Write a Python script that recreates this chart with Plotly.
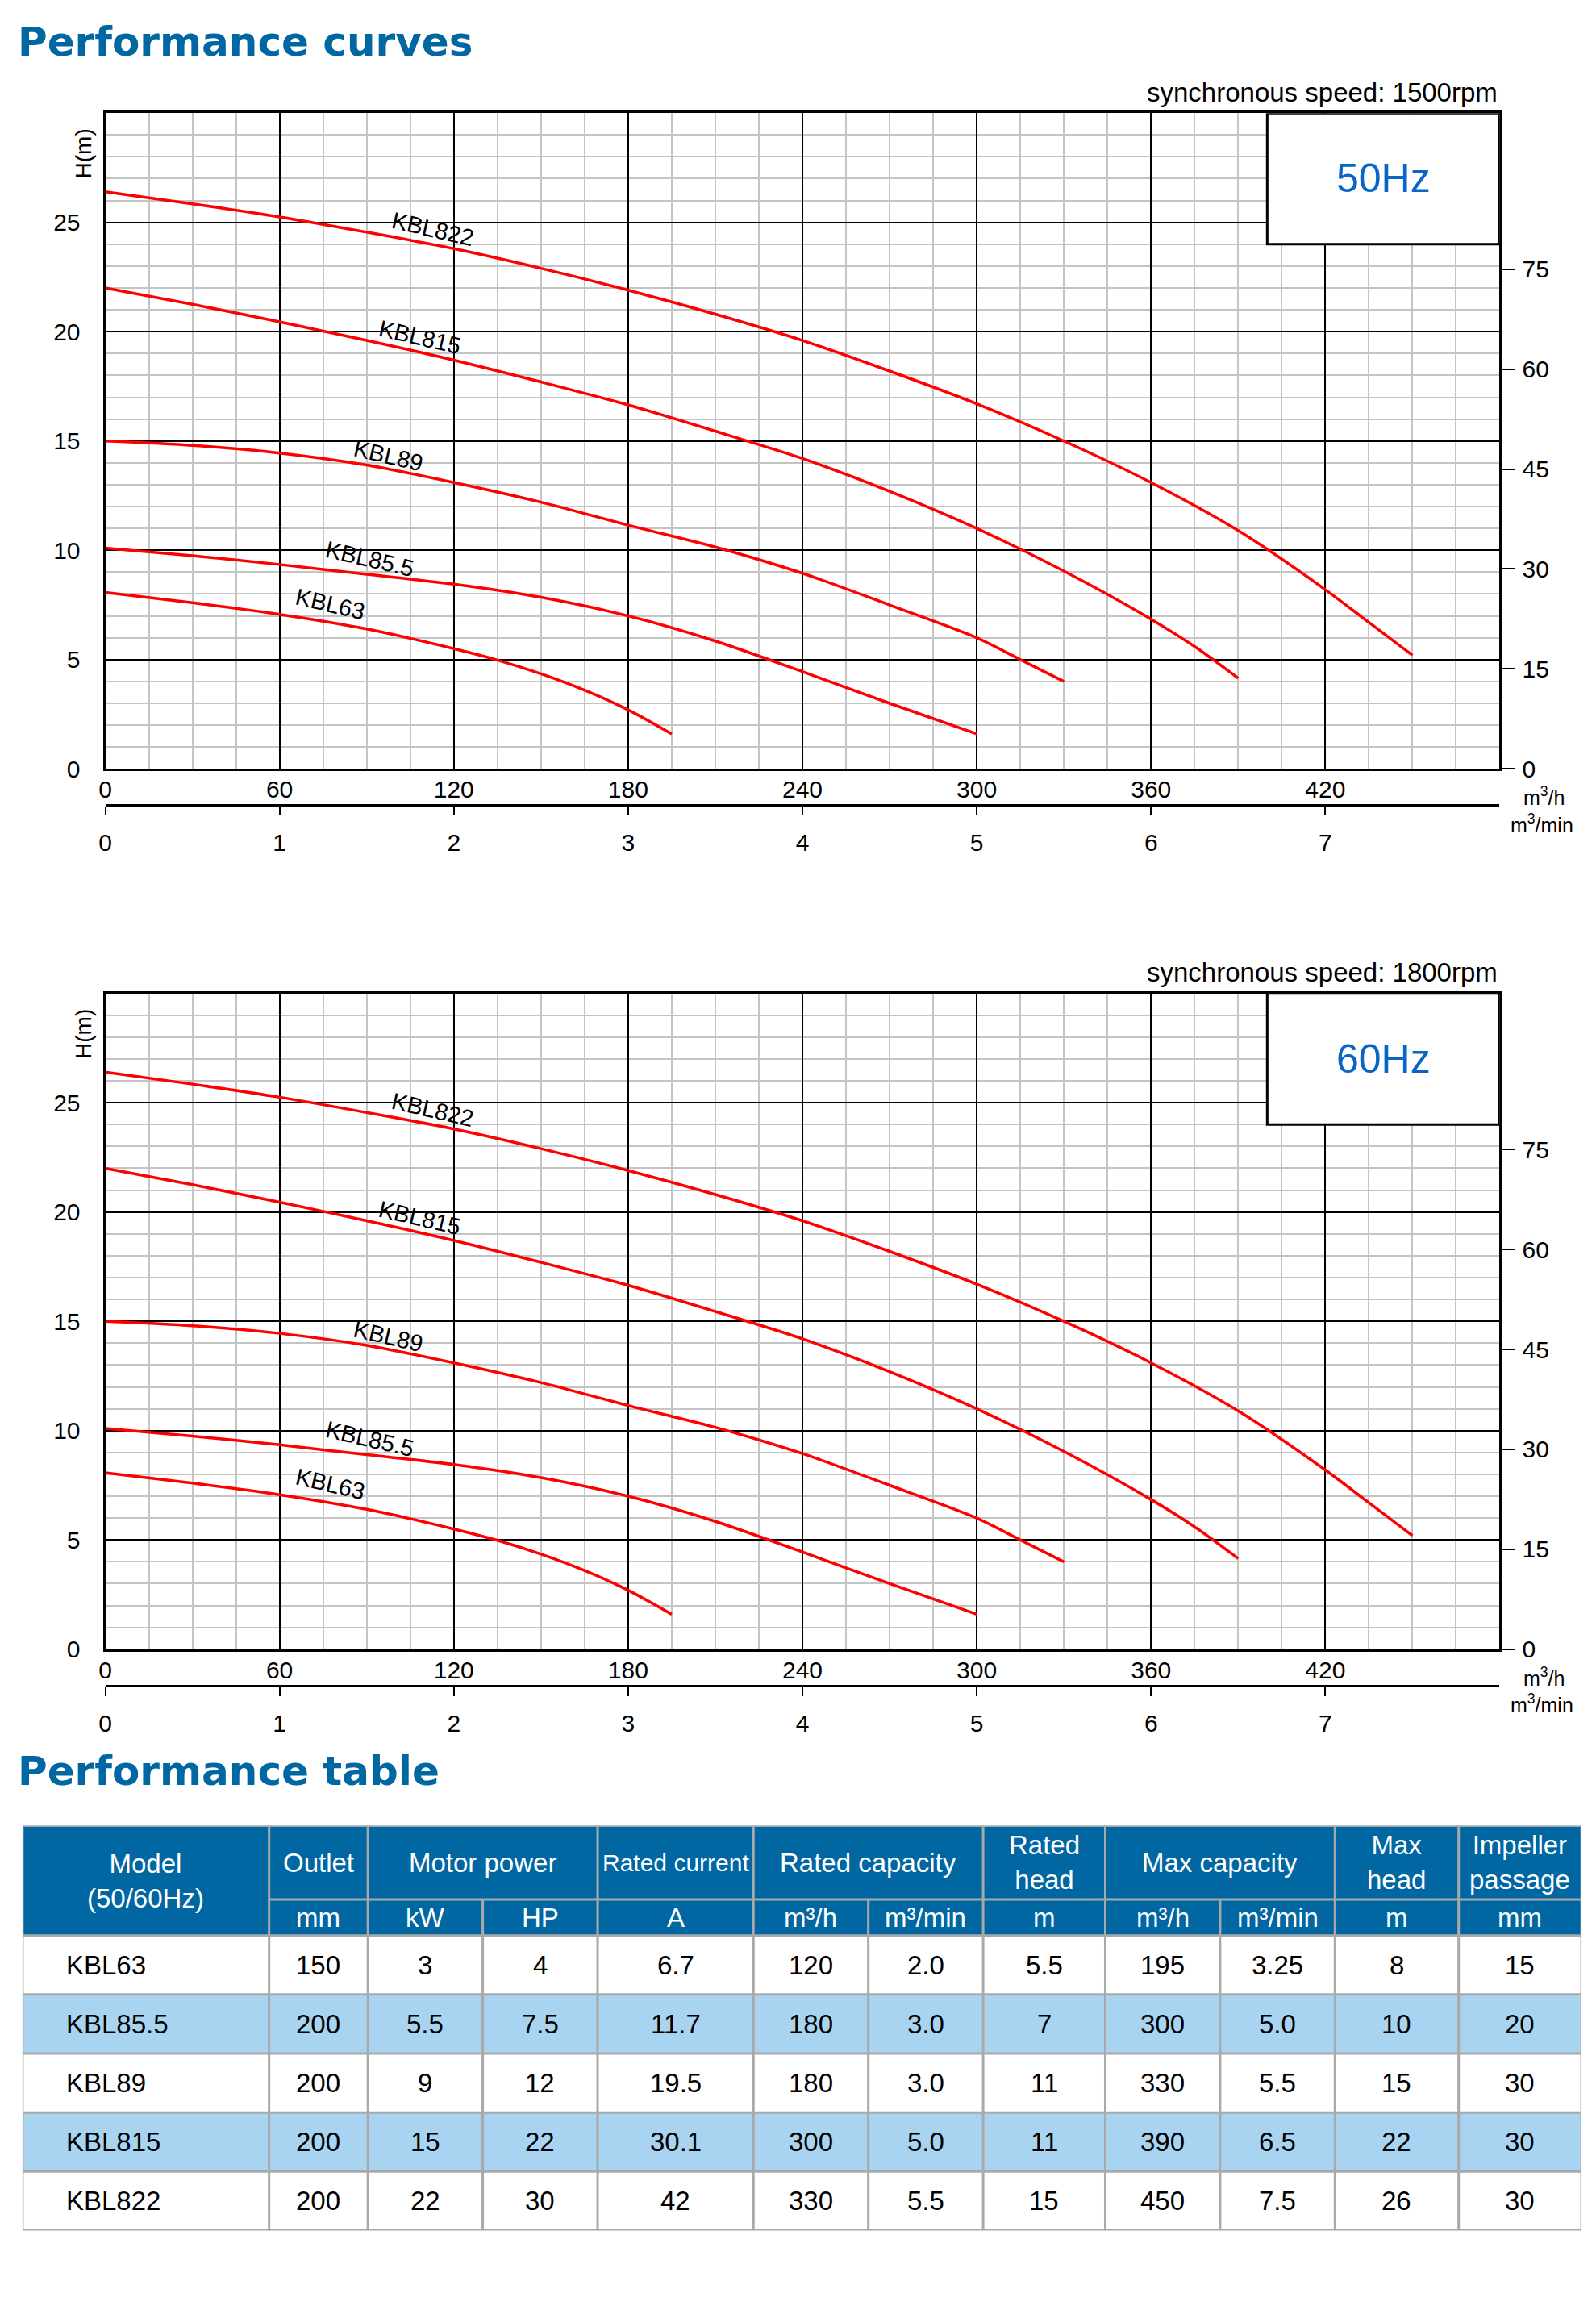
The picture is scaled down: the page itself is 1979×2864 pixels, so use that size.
import plotly.graph_objects as go

W, H = 1979, 2864
FONT = "Liberation Sans, Arial, sans-serif"
TITLE_FONT = "DejaVu Sans, Liberation Sans, sans-serif"

# ---------------- data ----------------
MODELS = ["KBL63", "KBL85.5", "KBL89", "KBL815", "KBL822"]

Q_KBL63 = [0, 30, 60, 90, 120, 135, 150, 165, 180, 195]
H_KBL63 = [8.07, 7.6, 7.07, 6.4, 5.5, 4.98, 4.35, 3.6, 2.7, 1.6]

Q_KBL855 = [0, 30, 60, 90, 120, 150, 180, 210, 240, 270, 300]
H_KBL855 = [10.1, 9.75, 9.35, 8.9, 8.45, 7.85, 7.0, 5.85, 4.45, 3.0, 1.6]

Q_KBL89 = [0, 30, 60, 90, 120, 150, 180, 210, 240, 270, 300, 315, 330]
H_KBL89 = [15.0, 14.8, 14.45, 13.9, 13.1, 12.2, 11.15, 10.15, 8.95, 7.5, 6.0, 5.0, 4.0]

Q_KBL815 = [0, 30, 60, 90, 120, 150, 180, 210, 240, 270, 300, 330, 360, 375, 390]
H_KBL815 = [22.0, 21.25, 20.45, 19.6, 18.7, 17.7, 16.65, 15.45, 14.2, 12.7, 11.0, 9.05, 6.85, 5.6, 4.15]

Q_KBL822 = [0, 30, 60, 90, 120, 150, 180, 210, 240, 270, 300, 330, 360, 390, 420, 435, 450]
H_KBL822 = [26.4, 25.85, 25.25, 24.55, 23.8, 22.9, 21.9, 20.8, 19.6, 18.2, 16.7, 15.0, 13.1, 10.9, 8.2, 6.7, 5.2]

CURVES_Q = [Q_KBL63, Q_KBL855, Q_KBL89, Q_KBL815, Q_KBL822]
CURVES_H = [H_KBL63, H_KBL855, H_KBL89, H_KBL815, H_KBL822]

LABEL_Q = [77.4, 91.0, 97.5, 108.3, 112.7]
LABEL_H = [7.55, 9.62, 14.31, 19.74, 24.68]

FLOW_TICKS_M3H = [0, 60, 120, 180, 240, 300, 360, 420]
FLOW_TICKS_M3MIN = [0, 1, 2, 3, 4, 5, 6, 7]
HEAD_TICKS = [0, 5, 10, 15, 20, 25]
FEET_TICKS = [0, 15, 30, 45, 60, 75]
Q_MAX = 480
H_MAX = 30
M_TO_FT = 3.28084

FREQS = ["50Hz", "60Hz"]
SPEEDS = ["synchronous speed: 1500rpm", "synchronous speed: 1800rpm"]

# table data
T_MODEL = ["KBL63", "KBL85.5", "KBL89", "KBL815", "KBL822"]
T_OUTLET = ["150", "200", "200", "200", "200"]
T_KW = ["3", "5.5", "9", "15", "22"]
T_HP = ["4", "7.5", "12", "22", "30"]
T_CURRENT = ["6.7", "11.7", "19.5", "30.1", "42"]
T_RATED_Q_H = ["120", "180", "180", "300", "330"]
T_RATED_Q_MIN = ["2.0", "3.0", "3.0", "5.0", "5.5"]
T_RATED_HEAD = ["5.5", "7", "11", "11", "15"]
T_MAX_Q_H = ["195", "300", "330", "390", "450"]
T_MAX_Q_MIN = ["3.25", "5.0", "5.5", "6.5", "7.5"]
T_MAX_HEAD = ["8", "10", "15", "22", "26"]
T_IMPELLER = ["15", "20", "30", "30", "30"]

HEAD1 = [("Model<br>(50/60Hz)", 0, 0), ("Outlet", 1, 1), ("Motor power", 2, 3),
         ("Rated current", 4, 4), ("Rated capacity", 5, 6), ("Rated<br>head", 7, 7),
         ("Max capacity", 8, 9), ("Max<br>head", 10, 10), ("Impeller<br>passage", 11, 11)]
HEAD2 = ["mm", "kW", "HP", "A", "m³/h", "m³/min", "m", "m³/h", "m³/min", "m", "mm"]

# ---------------- layout constants ----------------
PLOT_L, PLOT_R = 123, 1859
CH_TOP = [141, 1239]
CH_HGT = 818
BOX_Q = (400, 480)
BOX_H = (24, 30)

RED = "#ff0000"
BLUE_T = "#0067a3"
HZ_BLUE = "#0a66c6"
STRIPE = "#a9d4f1"
TGRAY = "#a9a9a9"

TBL_L, TBL_T = 20, 2277
COL_W = [307, 123, 143, 143, 194, 143, 143, 152, 143, 143, 154, 153]
ROW_H = [92, 45, 73.6, 73.6, 73.6, 73.6, 73.6]


def px(x):
    return x / W


def py(y):
    return 1 - y / H


fig = go.Figure()
annotations = []
shapes = []
layout = {}

for c in range(2):
    top = CH_TOP[c]
    bot = top + CH_HGT
    xn = "x" if c == 0 else "x3"
    yn = "y" if c == 0 else "y3"
    xn2 = "x2" if c == 0 else "x4"
    yn2 = "y2" if c == 0 else "y4"
    xk = "xaxis" if c == 0 else "xaxis3"
    yk = "yaxis" if c == 0 else "yaxis3"
    xk2 = "xaxis2" if c == 0 else "xaxis4"
    yk2 = "yaxis2" if c == 0 else "yaxis4"

    for i, m in enumerate(MODELS):
        fig.add_trace(go.Scatter(x=CURVES_Q[i], y=CURVES_H[i], mode="lines",
                                 line=dict(color=RED, width=3.5, shape="spline", smoothing=0.8),
                                 xaxis=xn, yaxis=yn, showlegend=False, hoverinfo="skip"))
        annotations.append(dict(x=LABEL_Q[i], y=LABEL_H[i], xref=xn, yref=yn, text=m,
                                textangle=13, showarrow=False,
                                font=dict(family=FONT, size=29, color="black")))
    # helper trace for secondary axes
    fig.add_trace(go.Scatter(x=[0], y=[0], xaxis=xn2, yaxis=yn2, mode="markers",
                             marker=dict(opacity=0), showlegend=False, hoverinfo="skip"))

    dom_x = [px(PLOT_L), px(PLOT_R)]
    dom_y = [py(bot), py(top)]
    tf = dict(family=FONT, size=30, color="black")
    layout[xk] = dict(domain=dom_x, range=[0, Q_MAX], anchor=yn, tickmode="array",
                      tickvals=FLOW_TICKS_M3H, showgrid=True, gridcolor="black", gridwidth=2,
                      minor=dict(tickmode="array", tickvals=list(range(0, Q_MAX + 1, 15)),
                                 showgrid=True, gridcolor="#c4c4c4", gridwidth=1.6, ticks=""),
                      showline=True, mirror=True, linecolor="black", linewidth=3,
                      ticks="", tickfont=tf, ticklabelstandoff=-3, zeroline=False,
                      fixedrange=True, layer="above traces")
    layout[yk] = dict(domain=dom_y, range=[0, H_MAX], anchor=xn, tickmode="array",
                      tickvals=HEAD_TICKS, showgrid=True, gridcolor="black", gridwidth=2,
                      minor=dict(tickmode="array", tickvals=list(range(0, H_MAX + 1)),
                                 showgrid=True, gridcolor="#c4c4c4", gridwidth=1.6, ticks=""),
                      showline=True, mirror=True, linecolor="black", linewidth=3,
                      ticks="", tickfont=tf, ticklabelstandoff=22, zeroline=False,
                      fixedrange=True)
    layout[yk2] = dict(overlaying=yn, side="right", anchor=xn, range=[0, H_MAX * M_TO_FT],
                       tickmode="array", tickvals=FEET_TICKS, showgrid=False,
                       ticks="outside", ticklen=16, tickwidth=2, tickcolor="black",
                       showline=True, linecolor="black", linewidth=3, tickfont=tf,
                       ticklabelstandoff=3, zeroline=False, fixedrange=True)
    layout[xk2] = dict(overlaying=xn, anchor="free", position=py(bot + 45), side="bottom",
                       range=[0, Q_MAX / 60], tickmode="array", tickvals=FLOW_TICKS_M3MIN,
                       showgrid=False, ticks="outside", ticklen=11, tickwidth=2,
                       tickcolor="black", showline=True, linecolor="black", linewidth=3,
                       tickfont=tf, ticklabelstandoff=8, zeroline=False, fixedrange=True)

    # frequency box
    shapes.append(dict(type="rect", xref=xn, yref=yn, x0=BOX_Q[0], x1=BOX_Q[1],
                       y0=BOX_H[0], y1=BOX_H[1], fillcolor="white",
                       line=dict(color="black", width=3), layer="above"))
    annotations.append(dict(x=(BOX_Q[0] + BOX_Q[1]) / 2, y=(BOX_H[0] + BOX_H[1]) / 2,
                            xref=xn, yref=yn, text=FREQS[c], showarrow=False,
                            font=dict(family=FONT, size=50, color=HZ_BLUE)))
    # speed text
    annotations.append(dict(x=px(PLOT_R), y=py(top - 26), xref="paper", yref="paper",
                            xanchor="right", yanchor="middle", text=SPEEDS[c], showarrow=False,
                            font=dict(family=FONT, size=33, color="black")))
    # H(m)
    annotations.append(dict(x=px(96), y=py(top + 51), xref="paper", yref="paper",
                            xanchor="center", yanchor="middle", text="H(m)", textangle=-90,
                            showarrow=False, font=dict(family=FONT, size=28, color="black")))
    # units
    annotations.append(dict(x=px(1914), y=py(bot + 34), xref="paper", yref="paper",
                            xanchor="center", yanchor="middle", text="m<sup>3</sup>/h",
                            showarrow=False, font=dict(family=FONT, size=25, color="black")))
    annotations.append(dict(x=px(1912), y=py(bot + 68), xref="paper", yref="paper",
                            xanchor="center", yanchor="middle", text="m<sup>3</sup>/min",
                            showarrow=False, font=dict(family=FONT, size=25, color="black")))

# titles
for txt, yc in [("Performance curves", 52), ("Performance table", 2209)]:
    annotations.append(dict(x=px(12), y=py(yc), xref="paper", yref="paper", xanchor="left",
                            yanchor="middle", text="<b>" + txt + "</b>", showarrow=False,
                            font=dict(family=TITLE_FONT, size=50, color=BLUE_T)))

# ---------------- table ----------------
tw = sum(COL_W)
th = sum(ROW_H)
layout["xaxis5"] = dict(domain=[px(TBL_L), px(TBL_L + tw)], range=[0, tw], anchor="y5",
                        visible=False, fixedrange=True)
layout["yaxis5"] = dict(domain=[py(TBL_T + th), py(TBL_T)], range=[th, 0], anchor="x5",
                        visible=False, fixedrange=True)
fig.add_trace(go.Scatter(x=[0], y=[0], xaxis="x5", yaxis="y5", mode="markers",
                         marker=dict(opacity=0), showlegend=False, hoverinfo="skip"))

cx = [0]
for w_ in COL_W:
    cx.append(cx[-1] + w_)
ry = [0]
for h_ in ROW_H:
    ry.append(ry[-1] + h_)

TX = dict(xref="x5", yref="y5", layer="below")
shapes.append(dict(type="rect", x0=0, x1=tw, y0=0, y1=ry[2], fillcolor=BLUE_T,
                   line=dict(width=0), **TX))
rows = [T_MODEL, T_OUTLET, T_KW, T_HP, T_CURRENT, T_RATED_Q_H, T_RATED_Q_MIN,
        T_RATED_HEAD, T_MAX_Q_H, T_MAX_Q_MIN, T_MAX_HEAD, T_IMPELLER]
for r in range(len(T_MODEL)):
    fill = STRIPE if r % 2 == 1 else "white"
    shapes.append(dict(type="rect", x0=0, x1=tw, y0=ry[2 + r], y1=ry[3 + r], fillcolor=fill,
                       line=dict(width=0), **TX))

LN = dict(color=TGRAY, width=3)
TL = dict(xref="x5", yref="y5", layer="above")
shapes.append(dict(type="line", x0=0, x1=tw, y0=0, y1=0, line=LN, **TL))
shapes.append(dict(type="line", x0=cx[1], x1=tw, y0=ry[1], y1=ry[1], line=LN, **TL))
for k in range(2, len(ry)):
    shapes.append(dict(type="line", x0=0, x1=tw, y0=ry[k], y1=ry[k], line=LN, **TL))
head1_edges = set([0, tw] + [cx[e + 1] for (_, s, e) in HEAD1])
for xv in cx:
    y_start = 0 if xv in head1_edges else ry[1]
    shapes.append(dict(type="line", x0=xv, x1=xv, y0=y_start, y1=th, line=LN, **TL))

for txt, s, e in HEAD1:
    xc = (cx[s] + cx[e + 1]) / 2
    yc = ry[2] / 2 if s == 0 else ry[1] / 2
    size = 30 if txt == "Rated current" else 33
    annotations.append(dict(x=xc, y=yc, xref="x5", yref="y5", text=txt, showarrow=False,
                            font=dict(family=FONT, size=size, color="white")))
for j, u in enumerate(HEAD2):
    xc = (cx[j + 1] + cx[j + 2]) / 2
    annotations.append(dict(x=xc, y=(ry[1] + ry[2]) / 2, xref="x5", yref="y5", text=u,
                            showarrow=False, font=dict(family=FONT, size=33, color="white")))
for r in range(len(T_MODEL)):
    yc = (ry[2 + r] + ry[3 + r]) / 2
    for j, col in enumerate(rows):
        if j == 0:
            annotations.append(dict(x=52, y=yc, xref="x5", yref="y5", text=col[r],
                                    xanchor="left", showarrow=False,
                                    font=dict(family=FONT, size=33, color="black")))
        else:
            annotations.append(dict(x=(cx[j] + cx[j + 1]) / 2, y=yc, xref="x5", yref="y5",
                                    text=col[r], showarrow=False,
                                    font=dict(family=FONT, size=33, color="black")))

fig.update_layout(width=W, height=H, margin=dict(l=0, r=0, t=0, b=0),
                  paper_bgcolor="white", plot_bgcolor="white", showlegend=False,
                  annotations=annotations, shapes=shapes, **layout)

fig.write_html("out.html", config={"displayModeBar": False},
               post_script="document.body.style.margin='0';document.body.style.overflow='hidden';")
